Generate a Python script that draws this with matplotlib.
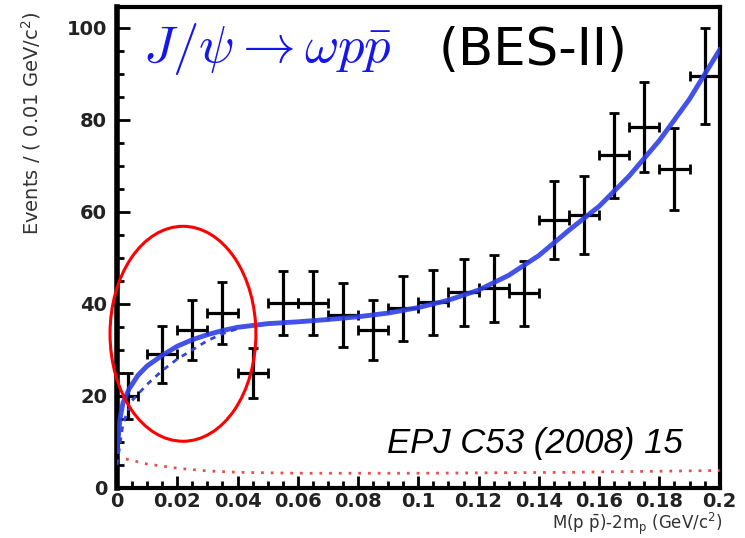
import numpy as np
import matplotlib
matplotlib.use("Agg")
import matplotlib.pyplot as plt
from matplotlib.patches import Ellipse

# data points (bin centres, events, errors)
x_data = [0.0035, 0.015, 0.025, 0.035, 0.045, 0.055, 0.065, 0.075, 0.085, 0.095,
          0.105, 0.115, 0.125, 0.135, 0.145, 0.155, 0.165, 0.175, 0.185, 0.195]
y_data = [20, 29, 34.3, 38, 25, 40.2, 40.2, 37.6, 34.3, 39,
          40.3, 42.5, 43.4, 42.3, 58.3, 59.3, 72.3, 78.5, 69.3, 89.5]
y_err = [5, 6.2, 6.5, 6.8, 5.5, 7, 7, 7, 6.5, 7,
         7, 7.3, 7.3, 7.1, 8.5, 8.5, 9.2, 9.8, 9, 10.4]
x_err = [0.0035] + [0.005] * 19

# fit curve
x_fit = [0.0, 0.001, 0.002, 0.004, 0.007, 0.01, 0.015, 0.02, 0.025, 0.03, 0.035, 0.04,
         0.05, 0.06, 0.07, 0.08, 0.09, 0.10, 0.11, 0.12, 0.13, 0.14, 0.15, 0.16,
         0.17, 0.18, 0.19, 0.2]
y_fit = [8, 15, 18.5, 21.5, 24.5, 26.5, 28.8, 30.8, 32.2, 33.3, 34.2, 34.9,
         35.7, 36.1, 36.6, 37.2, 38.0, 39.2, 40.8, 43.0, 46.2, 50.5, 56, 61.2,
         67.8, 75.5, 84.5, 95.2]

# second (dashed) curve near threshold
x_dash = [0.0, 0.002, 0.005, 0.01, 0.015, 0.02, 0.025, 0.03, 0.035, 0.04]
y_dash = [5, 14, 19, 22.5, 25.5, 28, 30, 32, 33.5, 34.6]

# background
x_bkg = [0.003, 0.01, 0.02, 0.03, 0.04, 0.06, 0.1, 0.15, 0.2]
y_bkg = [6.3, 5.2, 4.3, 3.7, 3.4, 3.2, 3.2, 3.4, 3.8]

fig = plt.figure(figsize=(7.45, 5.38), dpi=100)
ax = fig.add_axes([0.157, 0.093, 0.809, 0.894])

ax.errorbar(x_data, y_data, yerr=y_err, xerr=x_err, fmt="none", ecolor="black",
            elinewidth=2.3, capsize=3.5, capthick=2, zorder=2)
ax.plot(x_bkg, y_bkg, color="#e85050", linestyle=(0, (1, 2.5)), linewidth=2, zorder=3)
ax.plot(x_dash, y_dash, color="#3545d8", linestyle=(0, (2, 2)), linewidth=2, zorder=3)
ax.plot(x_fit, y_fit, color="#2f3fe6", linewidth=3.5, alpha=0.9, zorder=4)

ax.add_patch(Ellipse((0.0219, 33.5), 0.0484, 46.7, fill=False, edgecolor="red",
                     linewidth=2.2, clip_on=False, zorder=5))

ax.set_xlim(0, 0.2)
ax.set_ylim(0, 104.5)
ax.set_xticks(np.arange(0, 0.201, 0.02))
ax.set_xticklabels(["0", "0.02", "0.04", "0.06", "0.08", "0.1", "0.12", "0.14",
                    "0.16", "0.18", "0.2"])
ax.set_xticks(np.arange(0, 0.201, 0.005), minor=True)
ax.set_yticks(np.arange(0, 101, 20))
ax.set_yticks(np.arange(0, 101, 5), minor=True)
ax.tick_params(which="both", direction="in", width=2, colors="black",
               top=False, right=False)
ax.tick_params(which="major", length=9)
ax.tick_params(which="minor", length=5)
ax.tick_params(axis="y", which="major", pad=7)
ax.tick_params(axis="x", which="major", pad=3)
for lab in ax.get_xticklabels() + ax.get_yticklabels():
    lab.set_fontsize(14)
    lab.set_fontweight("bold")
    lab.set_color("#222222")
for s in ax.spines.values():
    s.set_linewidth(3)
ax.spines["left"].set_linewidth(4)

ax.set_ylabel("Events / ( 0.01 GeV/c$^{2}$)", fontsize=14, color="#333333", ha="right")
ax.yaxis.set_label_coords(-0.122, 0.99)
ax.set_xlabel(r"M(p $\bar{\rm p}$)-2m$_{\rm p}$ (GeV/c$^{2}$)", fontsize=12,
              color="#333333", ha="right", va="bottom")
ax.xaxis.set_label_coords(1.005, -0.101)

ax.text(0.043, 0.885, r"$J/\psi \rightarrow \omega p\bar{p}$", transform=ax.transAxes,
        fontsize=38, color="#1515f0", math_fontfamily="cm", va="baseline", ha="left")
ax.text(0.533, 0.879, "(BES-II)", transform=ax.transAxes, fontsize=37, color="black",
        va="baseline", ha="left")
ax.text(0.939, 0.073, "EPJ C53 (2008) 15", transform=ax.transAxes, fontsize=25,
        family="Liberation Sans", style="italic", color="black", va="baseline", ha="right")

plt.savefig("out.png", dpi=100)
